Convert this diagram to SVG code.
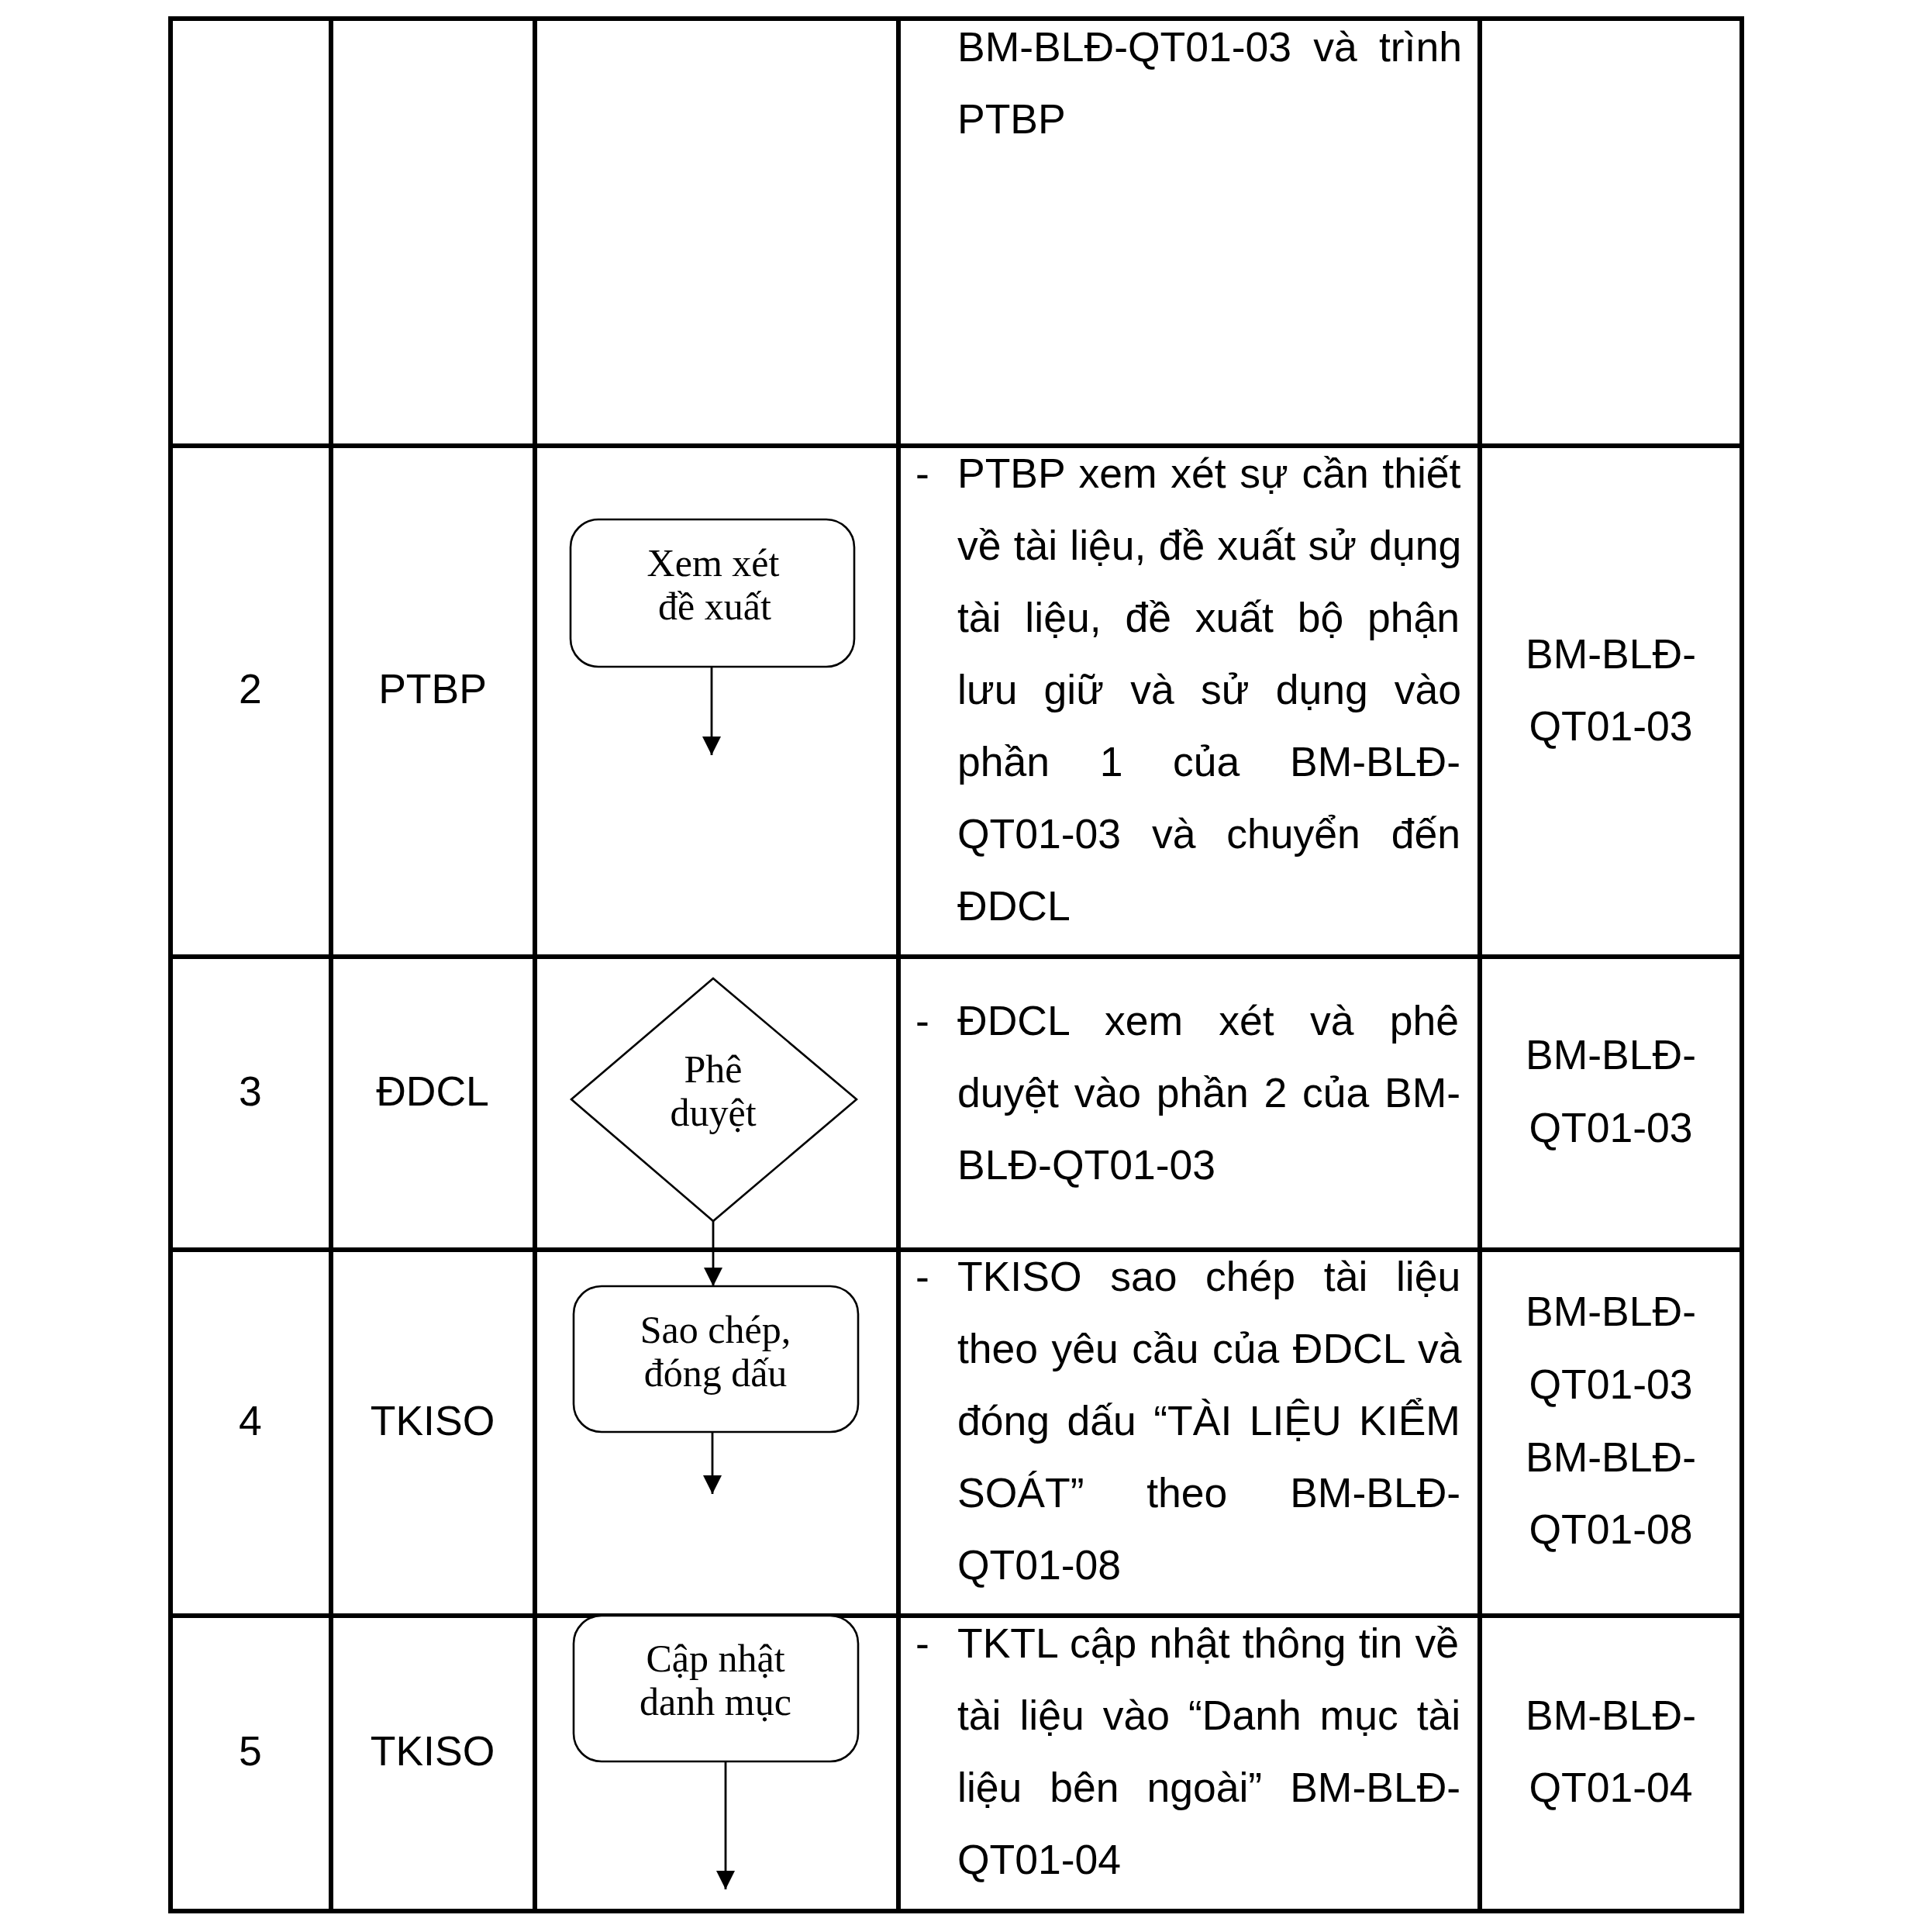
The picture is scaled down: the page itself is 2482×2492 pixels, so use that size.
<svg xmlns="http://www.w3.org/2000/svg" width="2482" height="2492" viewBox="0 0 2482 2492">
<style>
.grid{stroke:#000;stroke-width:6;fill:none}
.t{font-family:"Liberation Sans",Arial,sans-serif;font-size:53.5px;fill:#000}
.c{text-anchor:middle}
.s{font-family:"Liberation Serif","Times New Roman",serif;font-size:50px;fill:#000;text-anchor:middle}
.shape{fill:#fff;stroke:#000;stroke-width:2.6}
.conn{stroke:#000;stroke-width:2.8;fill:none}
</style>
<defs>
<marker id="arrow" viewBox="0 0 24 24" refX="24" refY="12" markerWidth="24" markerHeight="24" markerUnits="userSpaceOnUse" orient="auto">
<path d="M0,0 L24,12 L0,24 z" fill="#000"/>
</marker>
</defs>
<rect width="2482" height="2492" fill="#fff"/>
<g id="table">
<rect class="grid" x="220" y="24" width="2027" height="2441"/>
<line class="grid" x1="427" y1="24" x2="427" y2="2465"/>
<line class="grid" x1="690" y1="24" x2="690" y2="2465"/>
<line class="grid" x1="1159" y1="24" x2="1159" y2="2465"/>
<line class="grid" x1="1909" y1="24" x2="1909" y2="2465"/>
<line class="grid" x1="220" y1="575" x2="2247" y2="575"/>
<line class="grid" x1="220" y1="1234" x2="2247" y2="1234"/>
<line class="grid" x1="220" y1="1612" x2="2247" y2="1612"/>
<line class="grid" x1="220" y1="2084" x2="2247" y2="2084"/>
</g>
<g id="col-step">
<text class="t c" x="323" y="907">2</text>
<text class="t c" x="323" y="1426">3</text>
<text class="t c" x="323" y="1851">4</text>
<text class="t c" x="323" y="2277">5</text>
</g>
<g id="col-role">
<text class="t c" x="558" y="907">PTBP</text>
<text class="t c" x="558" y="1426">ĐDCL</text>
<text class="t c" x="558" y="1851">TKISO</text>
<text class="t c" x="558" y="2277">TKISO</text>
</g>
<g id="connectors">
<line class="conn" x1="918" y1="860" x2="918" y2="974" marker-end="url(#arrow)"/>
<line class="conn" x1="920" y1="1575" x2="920" y2="1659" marker-end="url(#arrow)"/>
<line class="conn" x1="919" y1="1847" x2="919" y2="1927" marker-end="url(#arrow)"/>
<line class="conn" x1="936" y1="2272" x2="936" y2="2437" marker-end="url(#arrow)"/>
</g>
<g id="node-xem-xet">
<rect class="shape" x="736" y="670" width="366" height="190" rx="36" ry="36"/>
<text class="s" x="920" y="743">Xem xét</text>
<text class="s" x="922" y="799">đề xuất</text>
</g>
<g id="node-phe-duyet">
<polygon class="shape" points="920,1262 1105,1418 920,1575 737,1418"/>
<text class="s" x="920" y="1396">Phê</text>
<text class="s" x="920" y="1452">duyệt</text>
</g>
<g id="node-sao-chep">
<rect class="shape" x="740" y="1659" width="367" height="188" rx="36" ry="36"/>
<text class="s" x="923" y="1732">Sao chép,</text>
<text class="s" x="923" y="1788">đóng dấu</text>
</g>
<g id="node-cap-nhat">
<rect class="shape" x="740" y="2084" width="367" height="188" rx="36" ry="36"/>
<text class="s" x="923" y="2156">Cập nhật</text>
<text class="s" x="923" y="2212">danh mục</text>
</g>
<g id="col-desc">
<text class="t" x="1235" y="79" word-spacing="13.3">BM-BLĐ-QT01-03 và trình</text>
<text class="t" x="1235" y="172">PTBP</text>

<text class="t" x="1181" y="629">-</text>
<text class="t" x="1235" y="629" word-spacing="2.8">PTBP xem xét sự cần thiết</text>
<text class="t" x="1235" y="722" word-spacing="1.3">về tài liệu, đề xuất sử dụng</text>
<text class="t" x="1235" y="815" word-spacing="16">tài liệu, đề xuất bộ phận</text>
<text class="t" x="1235" y="908" word-spacing="19.3">lưu giữ và sử dụng vào</text>
<text class="t" x="1235" y="1001" word-spacing="49.8">phần 1 của BM-BLĐ-</text>
<text class="t" x="1235" y="1094" word-spacing="25">QT01-03 và chuyển đến</text>
<text class="t" x="1235" y="1187">ĐDCL</text>

<text class="t" x="1181" y="1335">-</text>
<text class="t" x="1235" y="1335" word-spacing="31.4">ĐDCL xem xét và phê</text>
<text class="t" x="1235" y="1428" word-spacing="4.9">duyệt vào phần 2 của BM-</text>
<text class="t" x="1235" y="1521">BLĐ-QT01-03</text>

<text class="t" x="1181" y="1665">-</text>
<text class="t" x="1235" y="1665" word-spacing="21.8">TKISO sao chép tài liệu</text>
<text class="t" x="1235" y="1758" word-spacing="2.6">theo yêu cầu của ĐDCL và</text>
<text class="t" x="1235" y="1851" word-spacing="7.6">đóng dấu “TÀI LIỆU KIỂM</text>
<text class="t" x="1235" y="1944" word-spacing="65.9">SOÁT” theo BM-BLĐ-</text>
<text class="t" x="1235" y="2037">QT01-08</text>

<text class="t" x="1181" y="2138">-</text>
<text class="t" x="1235" y="2138" word-spacing="1.3">TKTL cập nhật thông tin về</text>
<text class="t" x="1235" y="2231" word-spacing="9.1">tài liệu vào “Danh mục tài</text>
<text class="t" x="1235" y="2324" word-spacing="21.1">liệu bên ngoài” BM-BLĐ-</text>
<text class="t" x="1235" y="2417">QT01-04</text>
</g>
<g id="col-form">
<text class="t c" x="2078" y="862">BM-BLĐ-</text>
<text class="t c" x="2078" y="955">QT01-03</text>
<text class="t c" x="2078" y="1379">BM-BLĐ-</text>
<text class="t c" x="2078" y="1473">QT01-03</text>
<text class="t c" x="2078" y="1710">BM-BLĐ-</text>
<text class="t c" x="2078" y="1804">QT01-03</text>
<text class="t c" x="2078" y="1898">BM-BLĐ-</text>
<text class="t c" x="2078" y="1991">QT01-08</text>
<text class="t c" x="2078" y="2231">BM-BLĐ-</text>
<text class="t c" x="2078" y="2324">QT01-04</text>
</g>
</svg>
